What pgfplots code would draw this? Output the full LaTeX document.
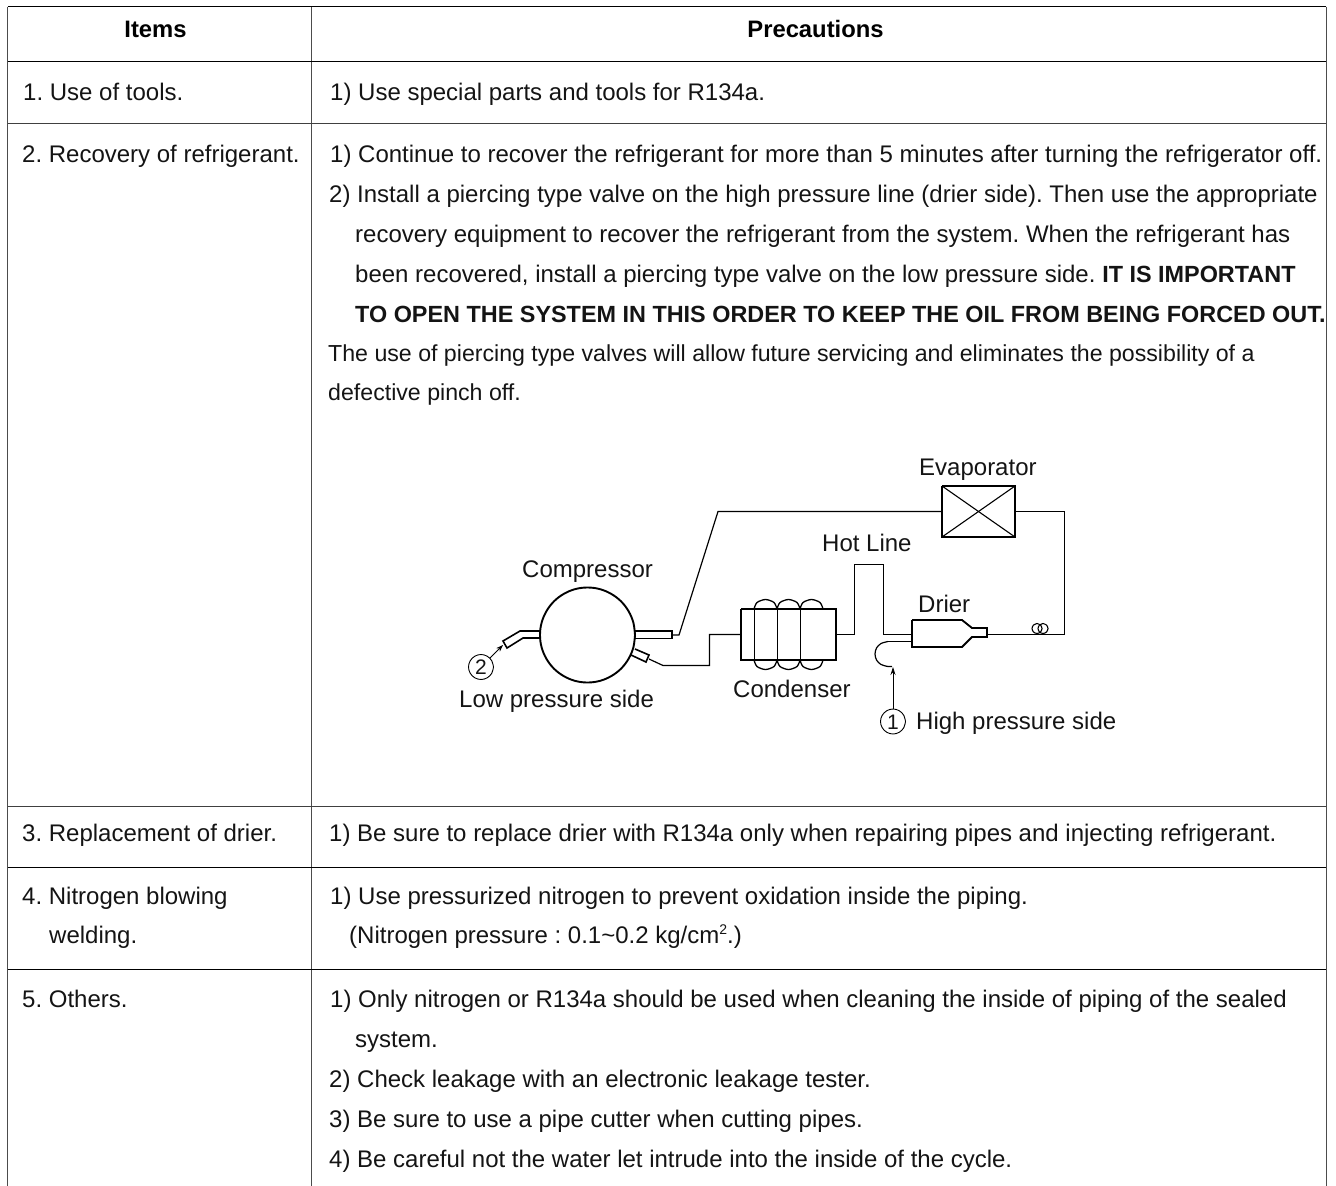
\documentclass[border=0pt]{standalone}
\usepackage{fontspec}
\setmainfont{Liberation Sans}
\usepackage{pgfplots}
\pgfplotsset{compat=1.18}
\usetikzlibrary{arrows.meta}
\frenchspacing
\newcommand{\BF}[1]{{\fontsize{23.4}{26}\selectfont\bfseries #1}}
\newcommand{\T}[3]{\node[anchor=base west,inner sep=0pt,text=black!92] at (axis cs:#1,#2) {\frenchspacing\fontsize{24}{26}\selectfont #3};}
\newcommand{\TS}[3]{\node[anchor=base west,inner sep=0pt,text=black!92] at (axis cs:#1,#2) {\frenchspacing\fontsize{23.15}{26}\selectfont #3};}
\newcommand{\TB}[3]{\node[anchor=base,inner sep=0pt] at (axis cs:#1,#2) {\fontsize{23.8}{26}\selectfont\bfseries #3};}
\newcommand{\LB}[3]{\node[anchor=base west,inner sep=0pt,text=black!92] at (axis cs:#1,#2) {\fontsize{24}{28}\selectfont #3};}
\newcommand{\LC}[3]{\node[anchor=base,inner sep=0pt,text=black!92] at (axis cs:#1,#2) {\fontsize{21}{28}\selectfont #3};}
\begin{document}
\begin{tikzpicture}
\useasboundingbox (0,0) rectangle (1336pt,1186pt);
\begin{axis}[at={(0,0)},anchor=south west,scale only axis,width=1336pt,height=1186pt,xmin=0,xmax=1336,ymin=0,ymax=1186,y dir=reverse,axis lines=none,clip=true,
 cycle list={{black,solid}},
 every axis plot/.append style={no markers,line width=1pt,black,solid,line join=miter}]
% table frame
\addplot[black!70] coordinates {(7.5,1186) (7.5,6.5)};
\addplot[black!70] coordinates {(1326,6.5) (1326,1186)};
\addplot[black!70] coordinates {(311.5,6.5) (311.5,1186)};
\addplot coordinates {(7.5,6.5) (1326,6.5)};
\addplot coordinates {(7.5,61.5) (1326,61.5)};
\addplot[black!75] coordinates {(7.5,123) (1326,123)};
\addplot[black!75] coordinates {(7.5,806) (1326,806)};
\addplot coordinates {(7.5,867.5) (1326,867.5)};
\addplot coordinates {(7.5,969.5) (1326,969.5)};
% pipework
\addplot[line width=1.2pt] coordinates {(672,635) (679,635) (718,511.5) (942,511.5)};
\addplot[line width=1.2pt] coordinates {(1015,511.5) (1064.5,511.5) (1064.5,634.5) (987,634.5)};
\addplot[line width=1.2pt] coordinates {(836,634.5) (854.5,634.5) (854.5,564.5) (883.5,564.5) (883.5,634.5) (912,634.5)};
\addplot[line width=1.2pt] coordinates {(649,659) (663,665.5) (709.5,665.5) (709.5,634.5) (741,634.5)};
\addplot[line width=1.2pt] coordinates {(912,641.5) (888,641.5)};
\addplot[line width=1.2pt,smooth] coordinates {(888,641.5) (881,643.5) (876.5,648) (875,654) (876.5,660) (881,664.5) (888,666.5) (892,666.5)};
% compressor
\addplot[line width=1.9pt,smooth,tension=0.6] coordinates {(635,635) (633.4,647.3) (628.6,658.75) (621.1,668.6) (611.25,676.1) (599.8,680.9) (587.5,682.5) (575.2,680.9) (563.75,676.1) (553.9,668.6) (546.4,658.75) (541.6,647.3) (540,635) (541.6,622.7) (546.4,611.25) (553.9,601.4) (563.75,593.9) (575.2,589.1) (587.5,587.5) (599.8,589.1) (611.25,593.9) (621.1,601.4) (628.6,611.25) (633.4,622.7) (635,635)};
\addplot[line width=1.6pt] coordinates {(635,631) (672,631) (672,638.5) (635,638.5)};
\addplot[line width=1.6pt] coordinates {(635,649) (649,655) (646,662) (631,655)};
\addplot[line width=1.6pt] coordinates {(540,631) (520,631) (503,641) (507,648) (523,638) (540,638)};
% condenser
\addplot[line width=1.6pt] coordinates {(741,609) (836,609) (836,660) (741,660) (741,609)};
\addplot[smooth,line width=1.3pt] coordinates {(754,609) (757,602.5) (765.5,599.5) (774,602.5) (777,609)};
\addplot[smooth,line width=1.3pt] coordinates {(777,609) (780,602.5) (788.5,599.5) (797,602.5) (800,609)};
\addplot[smooth,line width=1.3pt] coordinates {(800,609) (803,602.5) (811.5,599.5) (820,602.5) (823,609)};
\addplot[smooth,line width=1.3pt] coordinates {(754,660) (757,666.5) (765.5,669.5) (774,666.5) (777,660)};
\addplot[smooth,line width=1.3pt] coordinates {(777,660) (780,666.5) (788.5,669.5) (797,666.5) (800,660)};
\addplot[smooth,line width=1.3pt] coordinates {(800,660) (803,666.5) (811.5,669.5) (820,666.5) (823,660)};
\addplot coordinates {(754,609) (754,660)};
\addplot coordinates {(777,609) (777,660)};
\addplot coordinates {(800,609) (800,660)};
% evaporator
\addplot[line width=1.9pt] coordinates {(942,486) (1015,486) (1015,537) (942,537) (942,486)};
\addplot[line width=1.1pt] coordinates {(942,486) (1015,537)};
\addplot[line width=1.1pt] coordinates {(942,537) (1015,486)};
% drier
\addplot[line width=1.8pt] coordinates {(912,620) (962,620) (972,628) (987,628) (987,637) (972,637) (962,647) (912,647) (912,620)};
\addplot[smooth,line width=1.1pt] coordinates {(1037,623.5) (1033.5,625) (1032,628.5) (1033.5,632) (1037,633.5) (1040.5,632) (1042,628.5) (1040.5,625) (1037,623.5)};
\addplot[smooth,line width=1.1pt] coordinates {(1043,623.5) (1039.5,625) (1038,628.5) (1039.5,632) (1043,633.5) (1046.5,632) (1048,628.5) (1046.5,625) (1043,623.5)};
% numbered circles and leaders
\addplot[smooth,line width=0.9pt,tension=0.6] coordinates {(493.5,667) (491.8,673.2) (487.2,677.8) (481,679.5) (474.8,677.8) (470.2,673.2) (468.5,667) (470.2,660.8) (474.8,656.2) (481,654.5) (487.2,656.2) (491.8,660.8) (493.5,667)};
\addplot[smooth,line width=0.9pt,tension=0.6] coordinates {(905.5,721.5) (903.8,727.7) (899.2,732.3) (893,734) (886.8,732.3) (882.2,727.7) (880.5,721.5) (882.2,715.3) (886.8,710.7) (893,709) (899.2,710.7) (903.8,715.3) (905.5,721.5)};
\addplot[line width=0.8pt,-{Stealth[length=7pt,width=5pt]}] coordinates {(490,658) (503,645)};
\addplot[line width=0.8pt,-{Stealth[length=8pt,width=5pt]}] coordinates {(893,709) (893,667)};
% header
\TB{155.5}{37}{Items}
\TB{815.5}{37}{Precautions}
% column 1
\T{23}{100}{1. Use of tools.}
\T{22}{162}{2. Recovery of refrigerant.}
\T{22}{841}{3. Replacement of drier.}
\T{22}{904}{4. Nitrogen blowing}
\T{49}{943}{welding.}
\T{22}{1007}{5. Others.}
% column 2
\T{330}{100}{1) Use special parts and tools for R134a.}
\T{330}{162}{1) Continue to recover the refrigerant for more than 5 minutes after turning the refrigerator off.}
\T{329}{202}{2) Install a piercing type valve on the high pressure line (drier side). Then use the appropriate}
\T{355}{242}{recovery equipment to recover the refrigerant from the system. When the refrigerant has}
\T{355}{282}{been recovered, install a piercing type valve on the low pressure side. \BF{IT IS IMPORTANT}}
\T{355}{322}{\BF{TO OPEN THE SYSTEM IN THIS ORDER TO KEEP THE OIL FROM BEING FORCED OUT.}}
\TS{328}{361}{The use of piercing type valves will allow future servicing and eliminates the possibility of a}
\TS{328}{400}{defective pinch off.}
\T{329}{841}{1) Be sure to replace drier with R134a only when repairing pipes and injecting refrigerant.}
\T{330}{904}{1) Use pressurized nitrogen to prevent oxidation inside the piping.}
\T{349}{943}{(Nitrogen pressure : 0.1\textasciitilde0.2 kg/cm\raisebox{0.35em}{\fontsize{14}{14}\selectfont 2}.)}
\T{330}{1007}{1) Only nitrogen or R134a should be used when cleaning the inside of piping of the sealed}
\T{355}{1047}{system.}
\T{329}{1087}{2) Check leakage with an electronic leakage tester.}
\T{329}{1127}{3) Be sure to use a pipe cutter when cutting pipes.}
\T{329}{1167}{4) Be careful not the water let intrude into the inside of the cycle.}
% diagram labels
\LB{919}{475}{Evaporator}
\LB{822}{551}{Hot Line}
\LB{522}{577}{Compressor}
\LB{918}{612}{Drier}
\LB{733}{697}{Condenser}
\LB{459}{707}{Low pressure side}
\LB{916}{729}{High pressure side}
\LC{481}{674.5}{2}
\LC{893}{729}{1}
\end{axis}
\end{tikzpicture}
\end{document}
